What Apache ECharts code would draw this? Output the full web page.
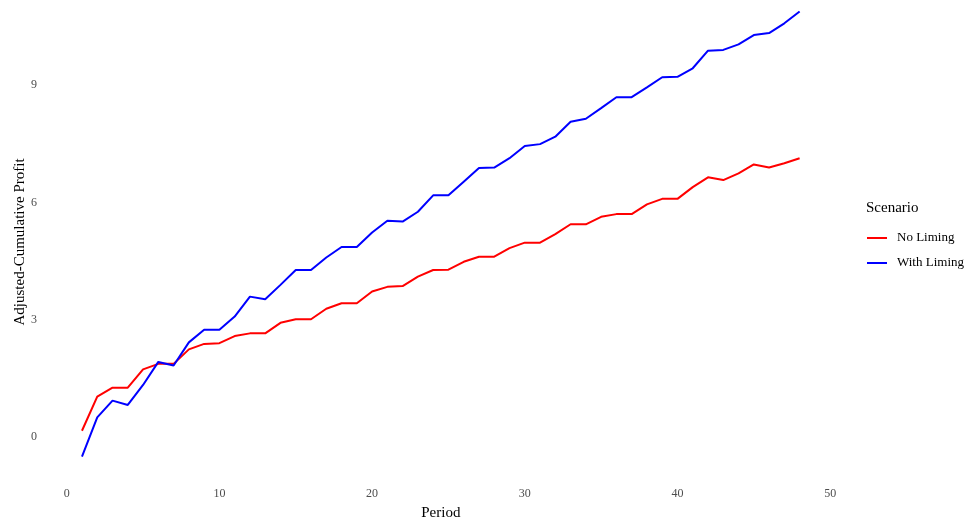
<!DOCTYPE html>
<html>
<head>
<meta charset="utf-8">
<script src="https://cdn.jsdelivr.net/npm/echarts@6/dist/echarts.min.js"></script>
<style>html,body{margin:0;padding:0;background:#fff}#c{width:971px;height:527px}</style>
</head>
<body>
<div id="c"></div>
<script>
const periods = Array.from({length: 48}, (_, i) => i + 1);
const noLiming = [0.16,1.03,1.26,1.26,1.73,1.87,1.87,2.24,2.38,2.40,2.58,2.65,2.65,2.92,3.01,3.01,3.28,3.42,3.42,3.72,3.84,3.86,4.10,4.27,4.28,4.48,4.61,4.61,4.83,4.97,4.97,5.19,5.44,5.44,5.63,5.70,5.70,5.95,6.09,6.09,6.39,6.64,6.57,6.74,6.97,6.89,7.00,7.13];
const withLiming = [-0.50,0.50,0.93,0.82,1.33,1.92,1.83,2.42,2.74,2.74,3.08,3.59,3.52,3.89,4.27,4.27,4.59,4.86,4.86,5.23,5.53,5.51,5.76,6.18,6.18,6.53,6.88,6.89,7.13,7.44,7.49,7.68,8.06,8.14,8.41,8.69,8.69,8.94,9.20,9.21,9.43,9.88,9.90,10.04,10.28,10.33,10.58,10.88];
const xTicks = [0,10,20,30,40,50];
const yTicks = [0,3,6,9];
const seriesNames = ['No Liming','With Liming'];

const font = 'Liberation Serif';
const chart = echarts.init(document.getElementById('c'), null, {renderer: 'canvas'});
chart.setOption({
  backgroundColor: '#fff',
  animation: false,
  title: {
    text: 'Scenario', left: 861, top: 196,
    textStyle: {fontFamily: font, fontSize: 15, fontWeight: 'normal', color: '#000'}
  },
  legend: {
    orient: 'vertical', left: 862, top: 226,
    itemWidth: 20, itemHeight: 2, itemGap: 11,
    icon: 'rect',
    data: seriesNames,
    textStyle: {fontFamily: font, fontSize: 13, color: '#000', lineHeight: 14, padding: [0,0,0,5]}
  },
  grid: {left: 46.1, width: 789.4, top: 0, height: 483.9, containLabel: false},
  xAxis: {
    type: 'value', min: -1.35, max: 50.35,
    name: 'Period', nameLocation: 'middle', nameGap: 22, nameMoveOverlap: false,
    nameTextStyle: {fontFamily: font, fontSize: 15, color: '#000'},
    axisLine: {show: false}, axisTick: {show: false},
    splitLine: {show: false},
    axisLabel: {customValues: xTicks, fontFamily: font, fontSize: 12, color: '#4d4d4d', margin: 4}
  },
  yAxis: {
    type: 'value', min: -1.2, max: 11.176,
    name: 'Adjusted-Cumulative Profit', nameLocation: 'middle', nameGap: 18.5, nameRotate: 90, nameMoveOverlap: false,
    nameTextStyle: {fontFamily: font, fontSize: 15, color: '#000'},
    axisLine: {show: false}, axisTick: {show: false},
    splitLine: {show: false},
    axisLabel: {customValues: yTicks, fontFamily: font, fontSize: 12, color: '#4d4d4d', margin: 9}
  },
  series: [
    {name: seriesNames[0], type: 'line', data: periods.map((p, i) => [p, noLiming[i]]),
     showSymbol: false, symbol: 'none', lineStyle: {color: '#ff0000', width: 2}, itemStyle: {color: '#ff0000'}},
    {name: seriesNames[1], type: 'line', data: periods.map((p, i) => [p, withLiming[i]]),
     showSymbol: false, symbol: 'none', lineStyle: {color: '#0000ff', width: 2}, itemStyle: {color: '#0000ff'}}
  ]
});
</script>
</body>
</html>
